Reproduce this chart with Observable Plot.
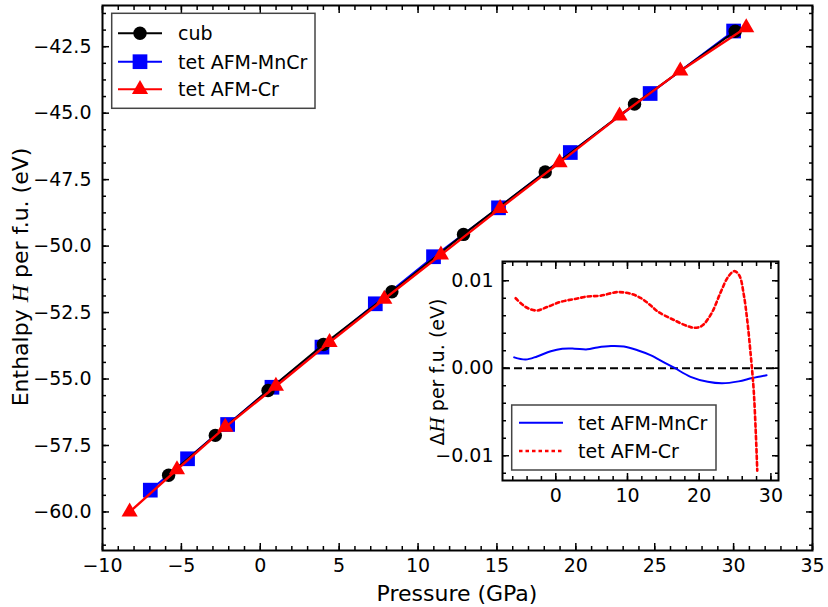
<!DOCTYPE html>
<html><head><meta charset="utf-8">
<script src="https://cdn.jsdelivr.net/npm/d3@7"></script>
<script src="https://cdn.jsdelivr.net/npm/@observablehq/plot@0.6"></script>
<style>
body{margin:0;background:#fff;}
#wrap{position:relative;width:828px;height:607px;font-family:"DejaVu Sans",sans-serif;}
#wrap svg{position:absolute;left:0;top:0;}
</style></head><body><div id="wrap"></div>
<script>
// ---- main data: pressure (GPa) vs enthalpy (eV)
const cubP  = [-5.81, -2.85, 0.49, 4.0, 8.34, 12.88, 18.06, 23.72, 30.1];
const cubH  = [-58.62, -57.12, -55.43, -53.70, -51.72, -49.56, -47.21, -44.66, -41.92];
const mncrP = [-6.97, -4.61, -2.07, 0.74, 3.91, 7.29, 10.98, 15.1, 19.65, 24.71, 30.0];
const mncrH = [-59.18, -58.00, -56.71, -55.31, -53.80, -52.17, -50.40, -48.56, -46.48, -44.26, -41.91];
const crP   = [-8.28, -5.28, -2.22, 0.99, 4.39, 7.86, 11.45, 15.2, 18.97, 22.77, 26.62, 30.8];
const crH   = [-60.00, -58.41, -56.81, -55.27, -53.62, -51.99, -50.33, -48.58, -46.86, -45.10, -43.41, -41.78];
const seriesNames = ["cub", "tet AFM-MnCr", "tet AFM-Cr"];
// ---- inset data: ΔH vs pressure
const dMnP = [-5.8,-4.2,-2.6,-0.7,0.9,2.6,4.4,5.8,7.7,9.5,11.4,13.2,14.2,16.5,18.8,21.2,23.2,25.5,27.4,29.4];
const dMnH = [0.00124,0.00099,0.00135,0.00194,0.00222,0.00224,0.00216,0.00238,0.00254,0.00248,0.00206,0.00150,0.00108,0.00006,-0.00098,-0.00155,-0.00172,-0.00150,-0.00112,-0.00080];
const dCrP = [-5.6,-4.2,-2.7,-1.2,0.7,2.6,4.4,6.3,8.6,10.5,11.9,13.2,14.2,16.5,18.8,19.8,20.6,21.8,23.0,24.0,24.9,25.6,26.2,26.7,27.2,27.6,27.9,28.1];
const dCrH = [0.0080,0.0070,0.0066,0.0070,0.0076,0.0079,0.0082,0.0083,0.0087,0.0085,0.0080,0.0072,0.0065,0.0055,0.0047,0.00465,0.0050,0.0064,0.0087,0.0104,0.0111,0.0106,0.0085,0.0055,0.0014,-0.0025,-0.0075,-0.0117];
// ---- ticks
const xTicks = [-10, -5, 0, 5, 10, 15, 20, 25, 30, 35];
const yTicks = [-60, -57.5, -55, -52.5, -50, -47.5, -45, -42.5];
const xMinor = d3.range(-10, 35.01, 1);
const yMinor = d3.range(-61.25, -40.9, 0.625);
const ixTicks = [0, 10, 20, 30];
const iyTicks = [-0.01, 0, 0.01];
const ixMinor = d3.range(-6, 31, 2);
const iyMinor = d3.range(-12, 13, 2).map(d => d / 1000);

const zip = (P, H) => P.map((p, i) => ({p, h: H[i]}));
const cub = zip(cubP, cubH), mncr = zip(mncrP, mncrH), cr = zip(crP, crH);
const dMn = zip(dMnP, dMnH), dCr = zip(dCrP, dCrH);

const F = "DejaVu Sans";
const BLUE = "#0000ff", RED = "#ff0000";
const tick = (k, anchor, ticks, size, extra = {}) =>
  (k === "x" ? Plot.axisX : Plot.axisY)({anchor, ticks, tickSize: size, fill: "none", label: null, strokeWidth: 1.5, ...extra});

const main = Plot.plot({
  width: 828, height: 607,
  marginLeft: 102, marginRight: 16, marginTop: 5, marginBottom: 57,
  style: {fontFamily: F, fontSize: "19px", background: "transparent", color: "#000", overflow: "visible"},
  x: {domain: [-10, 35]},
  y: {domain: [-61.45, -40.95]},
  marks: [
    tick("x", "bottom", xMinor, -4), tick("x", "top", xMinor, -4),
    tick("y", "left", yMinor, -4), tick("y", "right", yMinor, -4),
    tick("x", "top", xTicks, -7), tick("y", "right", yTicks, -7),
    Plot.axisX({anchor: "bottom", ticks: xTicks, tickSize: -7, tickPadding: 15, strokeWidth: 1.5, tickFormat: d3.format("d"), label: null}),
    Plot.axisY({anchor: "left", ticks: yTicks, tickSize: -7, tickPadding: 18, strokeWidth: 1.5, tickFormat: d3.format(".1f"), label: null}),
    Plot.line(mncr, {x: "p", y: "h", stroke: BLUE, strokeWidth: 2}),
    Plot.dot(mncr, {x: "p", y: "h", symbol: "square", r: 8.3, fill: BLUE}),
    Plot.line(cub, {x: "p", y: "h", stroke: "#000", strokeWidth: 2}),
    Plot.dot(cub, {x: "p", y: "h", symbol: "circle", r: 6.7, fill: "#000"}),
    Plot.line(cr, {x: "p", y: "h", stroke: RED, strokeWidth: 2.4}),
    Plot.dot(cr, {x: "p", y: "h", symbol: "triangle", r: 6, fill: RED}),
    Plot.frame({stroke: "#000", strokeWidth: 2})
  ]
});

const inset = Plot.plot({
  width: 400, height: 330,
  marginLeft: 82, marginRight: 42, marginTop: 11, marginBottom: 100,
  style: {fontFamily: F, fontSize: "19px", background: "transparent", color: "#000", overflow: "visible"},
  x: {domain: [-7.43, 31.06]},
  y: {domain: [-0.01283, 0.0122]},
  marks: [
    Plot.frame({fill: "#fff"}),
    tick("x", "bottom", ixMinor, -4), tick("x", "top", ixMinor, -4),
    tick("y", "left", iyMinor, -4), tick("y", "right", iyMinor, -4),
    tick("x", "top", ixTicks, -7), tick("y", "right", iyTicks, -7),
    Plot.axisX({anchor: "bottom", ticks: ixTicks, tickSize: -7, tickPadding: 15, strokeWidth: 1.5, tickFormat: d3.format("d"), label: null}),
    Plot.axisY({anchor: "left", ticks: iyTicks, tickSize: -7, tickPadding: 16, strokeWidth: 1.5, tickFormat: d3.format(".2f"), label: null}),
    Plot.ruleY([0], {stroke: "#000", strokeWidth: 2, strokeDasharray: "8,4"}),
    Plot.line(dMn, {x: "p", y: "h", stroke: BLUE, strokeWidth: 2, curve: "catmull-rom"}),
    Plot.line(dCr, {x: "p", y: "h", stroke: RED, strokeWidth: 2.6, strokeDasharray: "3.5,3", curve: "catmull-rom"}),
    Plot.frame({stroke: "#000", strokeWidth: 2})
  ]
});

const wrap = document.getElementById("wrap");
wrap.appendChild(main);
inset.style.left = "420px"; inset.style.top = "250px";
wrap.appendChild(inset);

// ---- overlay: axis labels and legends
const ov = d3.select(wrap).append("svg").attr("width", 828).attr("height", 607)
  .style("font-family", F).style("pointer-events", "none");
ov.append("text").attr("x", 457).attr("y", 601).attr("text-anchor", "middle").attr("font-size", 22).text("Pressure (GPa)");
const yl = ov.append("text").attr("transform", "translate(28,277) rotate(-90)").attr("text-anchor", "middle").attr("font-size", 22);
yl.append("tspan").text("Enthalpy ");
yl.append("tspan").attr("font-family", "Liberation Serif").attr("font-style", "italic").attr("font-size", 24).text("H");
yl.append("tspan").text(" per f.u. (eV)");
const il = ov.append("text").attr("transform", "translate(444,372) rotate(-90)").attr("text-anchor", "middle").attr("font-size", 19);
il.append("tspan").text("Δ");
il.append("tspan").attr("font-family", "Liberation Serif").attr("font-style", "italic").attr("font-size", 21).text("H");
il.append("tspan").text(" per f.u. (eV)");

// main legend
ov.append("rect").attr("x", 111.7).attr("y", 13.3).attr("width", 203.3).attr("height", 95)
  .attr("fill", "#fff").attr("stroke", "#444").attr("stroke-width", 1.5);
const legSym = [[d3.symbolCircle, 6.7, "#000"], [d3.symbolSquare, 8.3, BLUE], [d3.symbolTriangle, 6, RED]];
[33.3, 61.7, 89.3].forEach((y, i) => {
  const [sym, r, c] = legSym[i];
  ov.append("line").attr("x1", 118).attr("x2", 162).attr("y1", y).attr("y2", y).attr("stroke", c).attr("stroke-width", 2);
  ov.append("path").attr("d", d3.symbol(sym, Math.PI * r * r)()).attr("transform", `translate(140,${y})`).attr("fill", c);
  ov.append("text").attr("x", 178).attr("y", y + 7).attr("font-size", 19).text(seriesNames[i]);
});
// inset legend
ov.append("rect").attr("x", 511.7).attr("y", 405).attr("width", 204.3).attr("height", 65)
  .attr("fill", "#fff").attr("stroke", "#444").attr("stroke-width", 1.5);
[[422.7, BLUE, null, 2], [451, RED, "3.5,3", 2.6]].forEach(([y, c, dash, w], i) => {
  const ln = ov.append("line").attr("x1", 519).attr("x2", 563).attr("y1", y).attr("y2", y).attr("stroke", c).attr("stroke-width", w);
  if (dash) ln.attr("stroke-dasharray", dash);
  ov.append("text").attr("x", 578).attr("y", y + 7).attr("font-size", 19).text(seriesNames[i + 1]);
});
</script></body></html>
